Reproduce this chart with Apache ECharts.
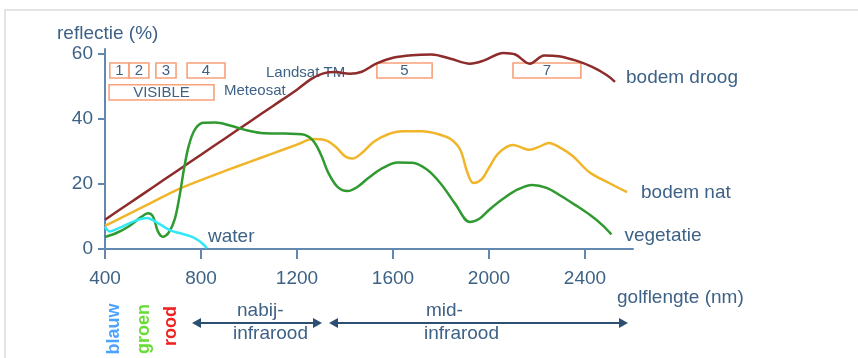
<!DOCTYPE html>
<html><head><meta charset="utf-8">
<script src="https://cdn.jsdelivr.net/npm/echarts@6/dist/echarts.min.js"></script>
<style>html,body{margin:0;padding:0;background:#fff}#c{width:858px;height:358px}</style>
</head><body><div id="c"></div>
<script>
// ---- data ----
const xTicks = [400, 800, 1200, 1600, 2000, 2400];
const yTicks = [0, 20, 40, 60];

const droog = [[400,9],[500,14],[600,19],[700,24],[800,29],[900,34],[1000,39],[1100,44],[1200,49],[1260,52.3],[1310,54],[1360,54.4],[1420,53.9],[1470,54.5],[1530,57],[1600,58.8],[1680,59.6],[1760,59.8],[1840,58.5],[1920,57],[1980,58],[2060,60.3],[2110,59.8],[2170,57],[2230,59.5],[2290,59.3],[2360,58],[2430,56],[2490,53.5],[2525,51.4]];
const nat = [[400,7.1],[500,10.8],[600,14.5],[700,18.2],[800,21.2],[900,24],[1000,26.7],[1100,29.4],[1200,32.1],[1267,33.8],[1320,33.4],[1360,31.5],[1400,28.5],[1430,27.8],[1470,29.5],[1520,33],[1580,35.3],[1640,36.2],[1720,36.2],[1790,35.3],[1840,33.8],[1880,30.5],[1910,23.5],[1935,20.3],[1970,21.5],[2000,25],[2040,29.5],[2100,32],[2170,30.5],[2210,31.5],[2250,32.6],[2300,31],[2350,28.5],[2420,23.5],[2500,20.3],[2575,17.5]];
const vegetatie = [[400,3.7],[450,5],[500,7],[550,9.8],[580,11],[600,10],[620,5.5],[640,3.8],[665,5],[690,9],[710,16],[730,25],[750,32],[775,36.8],[810,38.8],[860,38.9],[920,38],[980,36.7],[1050,35.7],[1150,35.5],[1220,35.3],[1265,33.5],[1300,29],[1330,23.5],[1370,19],[1410,17.8],[1450,19],[1500,22],[1560,25],[1620,26.6],[1680,26.5],[1740,24.5],[1800,20],[1860,13.8],[1920,8.3],[1960,9.3],[2000,12],[2060,15.5],[2120,18.3],[2180,19.7],[2240,18.8],[2300,16.3],[2360,13.5],[2420,10.5],[2470,7.5],[2510,4.5]];
const water = [[400,6.8],[420,5.4],[460,6.5],[520,8.5],[575,9.5],[615,8.2],[670,5.8],[710,4.9],[760,3.8],[790,2.6],[810,1.4],[825,0.3]];

const bandNames = ['1', '2', '3', '4', '5', '7'];
const bandStart = [420, 500, 612, 742, 1533, 2100];
const bandEnd   = [500, 583, 696, 900, 1763, 2383];
const visibleName = 'VISIBLE';
const visibleRange = [417, 854];

// ---- styling ----
const FONT = '"Liberation Sans", Arial, sans-serif';
const TXT = '#3e6286';
const AX = '#6288b0';
const BOX = '#f7a17a';

const bandBoxes = bandNames.map((n, i) => [
  { name: n, xAxis: bandStart[i], yAxis: 52.6 },
  { xAxis: bandEnd[i], yAxis: 57.2 }
]);
bandBoxes.push([
  { name: visibleName, xAxis: visibleRange[0], yAxis: 45.8 },
  { xAxis: visibleRange[1], yAxis: 50.5 }
]);

function lineSeries(name, data, color, lab) {
  return {
    type: 'line', name, data, smooth: 0.35, showSymbol: false, silent: true,
    lineStyle: { color, width: 2.5 }, itemStyle: { color },
    z: 5,
    endLabel: {
      show: true, formatter: '{a}', color: TXT, fontSize: 19, fontFamily: FONT,
      distance: lab[0], offset: [0, lab[1]]
    },
    emphasis: { disabled: true }
  };
}

const chart = echarts.init(document.getElementById('c'), null, { renderer: 'canvas' });

const arrowY = 323;
function tri(tipX, dir) {
  return { type: 'polygon', shape: { points: [[tipX, arrowY], [tipX - 9 * dir, arrowY - 5], [tipX - 9 * dir, arrowY + 5]] }, style: { fill: '#2d4f72' }, silent: true };
}
function txt(text, x, y, extra) {
  return Object.assign({ type: 'text', x, y, silent: true,
    style: Object.assign({ text, fill: TXT, font: '19px ' + FONT, textVerticalAlign: 'middle' }, extra || {}) });
}

const series = [
  lineSeries('bodem droog', droog, '#8e2b2b', [11, -4]),
  lineSeries('bodem nat', nat, '#f0b529', [14, 1]),
  lineSeries('vegetatie', vegetatie, '#2f9a2f', [13, 1]),
  lineSeries('water', water, '#33e8f5', [1, -11])
];
series[0].markArea = {
  silent: true,
  itemStyle: { color: 'rgba(255,255,255,0)', borderColor: BOX, borderWidth: 1.6 },
  label: { show: true, position: 'inside', color: TXT, fontSize: 15, fontFamily: FONT },
  data: bandBoxes,
  z: 1
};

chart.setOption({
  animation: false,
  backgroundColor: '#fff',
  grid: { left: 105, right: 225, top: 49, bottom: 109, containLabel: false },
  xAxis: {
    type: 'value', min: 400, max: 2600,
    axisLine: { show: true, onZero: false, lineStyle: { color: AX, width: 2 } },
    axisTick: { show: true, length: 10, lineStyle: { color: AX, width: 2 }, customValues: xTicks },
    axisLabel: { color: TXT, fontSize: 19, fontFamily: FONT, margin: 20, customValues: xTicks,
      formatter: v => String(v) },
    splitLine: { show: false }
  },
  yAxis: {
    type: 'value', min: 0, max: 61.5,
    axisLine: { show: true, lineStyle: { color: AX, width: 2 } },
    axisTick: { show: true, length: 7, lineStyle: { color: AX, width: 2 }, customValues: yTicks },
    axisLabel: { color: TXT, fontSize: 19, fontFamily: FONT, margin: 12, customValues: yTicks,
      padding: [10, 0, 0, 0], formatter: v => String(v) },
    splitLine: { show: false }
  },
  series,
  graphic: [
    { type: 'rect', shape: { x: 5, y: 10, width: 900, height: 400 }, style: { fill: 'none', stroke: '#e4e4e4', lineWidth: 2 }, silent: true, z: -10 },
    txt('reflectie (%)', 57, 34),
    txt('Landsat TM', 266, 73, { font: '15px ' + FONT }),
    txt('Meteosat', 224, 91, { font: '15px ' + FONT }),
    txt('golflengte (nm)', 617, 298),
    txt('nabij-', 237, 311),
    txt('infrarood', 233, 334),
    txt('mid-', 426, 311),
    txt('infrarood', 424, 334),
    { type: 'text', x: 114, y: 329, rotation: Math.PI / 2, silent: true, style: { text: 'blauw', fill: '#4da3ff', font: 'bold 18px ' + FONT, textAlign: 'center', textVerticalAlign: 'middle' } },
    { type: 'text', x: 144, y: 329, rotation: Math.PI / 2, silent: true, style: { text: 'groen', fill: '#66dd33', font: 'bold 18px ' + FONT, textAlign: 'center', textVerticalAlign: 'middle' } },
    { type: 'text', x: 171, y: 326, rotation: Math.PI / 2, silent: true, style: { text: 'rood', fill: '#ee2020', font: 'bold 18px ' + FONT, textAlign: 'center', textVerticalAlign: 'middle' } },
    { type: 'line', shape: { x1: 196, y1: arrowY, x2: 318, y2: arrowY }, style: { stroke: '#2d4f72', lineWidth: 2 }, silent: true },
    tri(192, -1), tri(322, 1),
    { type: 'line', shape: { x1: 333, y1: arrowY, x2: 624, y2: arrowY }, style: { stroke: '#2d4f72', lineWidth: 2 }, silent: true },
    tri(329, -1), tri(628, 1)
  ]
});
</script>
</body></html>
